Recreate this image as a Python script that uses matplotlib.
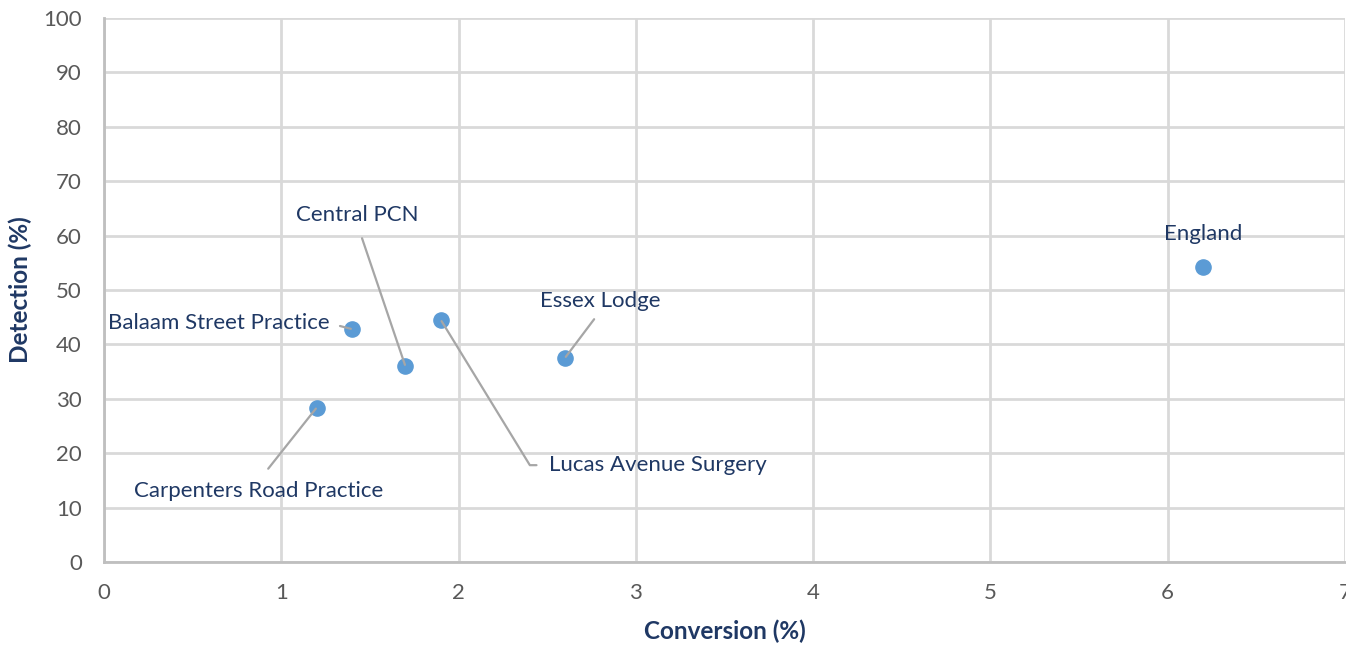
import matplotlib.pyplot as plt

# datos
nombres = ["Carpenters Road Practice", "Balaam Street Practice", "Central PCN",
           "Lucas Avenue Surgery", "Essex Lodge", "England"]
conversion = [1.2, 1.4, 1.7, 1.9, 2.6, 6.2]
deteccion = [28.4, 42.8, 36.0, 44.5, 37.5, 54.3]
# posicion de cada etiqueta (en unidades de datos)
etiqueta_x = [0.87, 1.27, 1.43, 2.51, 2.80, 6.20]
etiqueta_y = [13.0, 43.9, 63.8, 17.8, 48.0, 60.3]

azul = "#5B9BD5"
navy = "#1F3864"
gris = "#595959"

plt.rcParams['font.family'] = ['Lato', 'DejaVu Sans']

fig = plt.figure(figsize=(13.46, 6.47), dpi=100)
ax = fig.add_axes([104/1346, 85/647, 1241/1346, 544/647])

ax.scatter(conversion, deteccion, s=120, color=azul, zorder=3, clip_on=False)

# alineacion y estilo de cada etiqueta
estilos = [
    dict(ha="center", va="center", relpos=(0.5, 1.0), con="arc3", sa=9),
    dict(ha="right", va="center", relpos=(1.0, 0.5), con="arc3", sa=6),
    dict(ha="center", va="center", relpos=(0.5, 0.0), con="arc3", sa=8),
    dict(ha="left", va="center", relpos=(0.0, 0.5), con="angle,angleA=0,angleB=121.5,rad=0", sa=7),
    dict(ha="center", va="center", relpos=(0.5, 0.0), con="arc3", sa=5),
    dict(ha="center", va="center", relpos=(0.5, 0.0), con=None, sa=0),
]

for i in range(len(nombres)):
    e = estilos[i]
    if e["con"] is None:
        ax.annotate(nombres[i], (conversion[i], deteccion[i]),
                    xytext=(etiqueta_x[i], etiqueta_y[i]), textcoords="data",
                    ha=e["ha"], va=e["va"], color=navy, fontsize=16)
    else:
        ax.annotate(nombres[i], (conversion[i], deteccion[i]),
                    xytext=(etiqueta_x[i], etiqueta_y[i]), textcoords="data",
                    ha=e["ha"], va=e["va"], color=navy, fontsize=16,
                    arrowprops=dict(arrowstyle="-", color="#A6A6A6", lw=1.6,
                                    relpos=e["relpos"], connectionstyle=e["con"],
                                    shrinkA=e["sa"], shrinkB=1))

ax.set_xlim(0, 7)
ax.set_ylim(0, 100)
ax.set_xticks(range(0, 8))
ax.set_yticks(range(0, 101, 10))
ax.grid(True, color="#D9D9D9", linewidth=2)
ax.set_axisbelow(True)
for lado in ["top", "right"]:
    ax.spines[lado].set_visible(False)
for lado in ["left", "bottom"]:
    ax.spines[lado].set_color("#BFBFBF")
    ax.spines[lado].set_linewidth(2)
ax.tick_params(length=0, labelsize=16, labelcolor=gris)
ax.tick_params(axis="y", pad=16)
ax.tick_params(axis="x", pad=15)

ax.set_xlabel("Conversion (%)", fontsize=17.5, fontweight="bold", color=navy, labelpad=12)
ax.set_ylabel("Detection (%)", fontsize=17.5, fontweight="bold", color=navy, labelpad=8)

plt.savefig("out.png", dpi=100)
